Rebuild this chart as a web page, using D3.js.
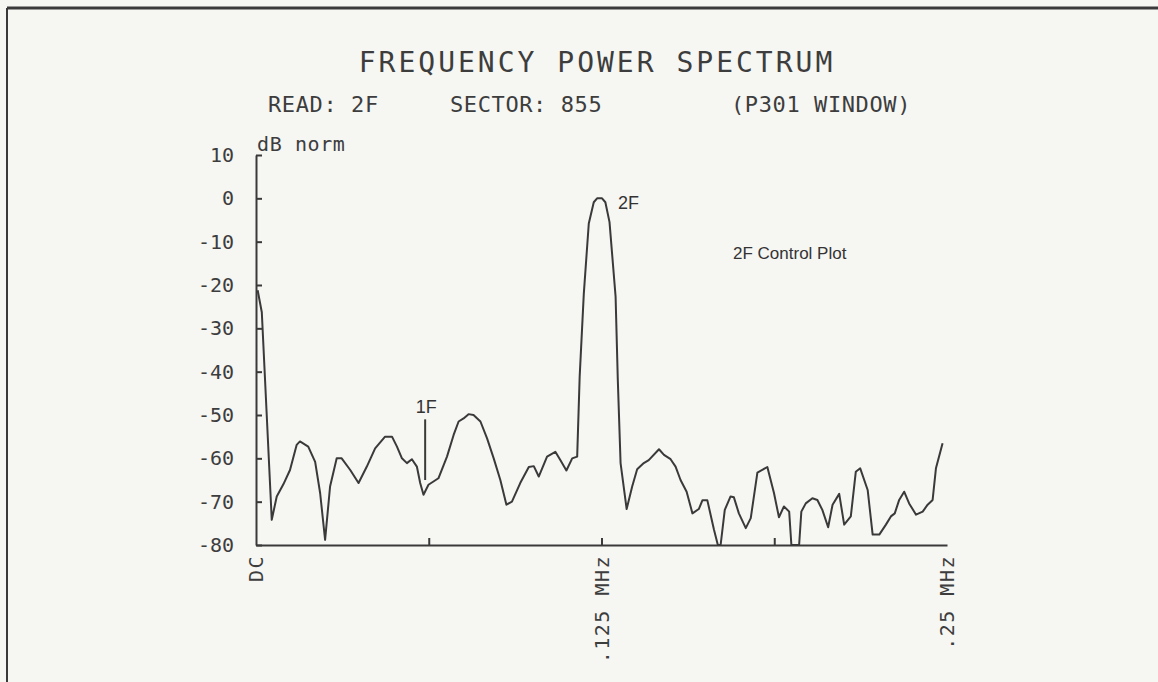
<!DOCTYPE html>
<html>
<head>
<meta charset="utf-8">
<script src="https://cdn.jsdelivr.net/npm/d3@7"></script>
<style>
  body { margin: 0; background: #f6f6f3; }
  svg { display: block; }
  .plot { font-family: "DejaVu Sans Mono", monospace; fill: #3d3d3d; font-feature-settings: "zero"; }
  .note { font-family: "Liberation Sans", Arial, sans-serif; fill: #333; }
</style>
</head>
<body>
<svg id="chart" width="1158" height="682"></svg>
<script>
// spectrum trace (frequency in kHz, level in dB norm)
var freqKHz = [0.6, 2.1, 5.7, 7.5, 9.9, 12.3, 14.7, 15.9, 18.9, 21.4, 23.2, 25.0, 26.8, 29.2, 31.0,
  34.1, 37.1, 40.1, 43.1, 46.7, 49.2, 51.0, 52.8, 54.6, 56.4, 58.2, 59.4, 60.6, 62.4, 66.0,
  69.1, 71.5, 73.3, 75.1, 76.9, 78.7, 81.2, 83.6, 86.0, 88.4, 90.6, 92.6, 95.6, 98.7, 100.5,
  102.3, 105.3, 108.3, 110.1, 112.3, 114.4, 116.2, 117.1, 118.6, 120.4, 122.2, 123.4, 125.2, 126.4, 127.9,
  130.1, 130.9, 131.9, 134.1, 136.1, 137.9, 140.3, 142.1, 145.8, 147.6, 150.0, 151.8, 153.6, 155.8, 157.9,
  160.2, 161.5, 163.3, 165.7, 167.1, 168.1, 169.6, 171.7, 172.9, 174.7, 177.2, 179.0, 181.4, 185.0, 187.4,
  189.2, 191.0, 192.9, 193.7, 196.5, 197.3, 198.9, 201.3, 203.1, 204.9, 207.0, 208.6, 211.0, 212.8, 215.2,
  217.0, 218.6, 221.3, 223.1, 225.5, 227.9, 229.7, 231.1, 232.7, 234.5, 236.3, 238.8, 241.2, 243.0, 244.8,
  246.0, 248.4];
var powerDb = [-21.2, -26.3, -74.2, -68.8, -66.0, -62.7, -56.9, -56.1, -57.3, -60.8, -68.0, -78.8, -66.5, -60.0, -60.0,
  -62.7, -65.7, -61.9, -57.7, -55.0, -55.0, -57.3, -60.0, -61.1, -60.2, -61.9, -65.7, -68.4, -66.1, -64.6,
  -59.6, -54.6, -51.5, -50.8, -49.8, -50.0, -51.5, -55.4, -60.0, -65.0, -70.7, -70.0, -65.7, -62.0, -61.8,
  -64.2, -59.6, -58.5, -60.4, -62.8, -60.0, -59.6, -41.2, -22.0, -5.8, -0.9, 0, 0, -0.9, -5.5,
  -22.7, -41.9, -61.1, -71.7, -66.5, -62.5, -61.1, -60.4, -57.9, -59.2, -60.2, -61.9, -65.0, -67.7, -72.7,
  -71.7, -69.7, -69.7, -76.5, -80, -80, -71.9, -68.8, -69.0, -72.7, -76.1, -73.8, -63.3, -62.0, -68.0,
  -73.6, -71.1, -72.3, -80, -80, -72.3, -70.4, -69.2, -69.6, -71.9, -75.9, -70.7, -68.2, -75.3, -73.4,
  -63.1, -62.3, -67.3, -77.6, -77.6, -75.3, -73.4, -72.7, -69.6, -67.7, -70.4, -73.0, -72.3, -70.7, -69.6,
  -62.3, -56.5];

var yTicks = [10, 0, -10, -20, -30, -40, -50, -60, -70, -80];
var xTicks = [62.5, 125, 187.5];
var xLabelFreqs = [0, 125, 250];
var xLabels = ["DC", ".125 MHz", ".25 MHz"];
var subtitleParts = ["READ: 2F", "SECTOR: 855", "(P301 WINDOW)"];
var subtitleX = [268, 450, 731];

var svg = d3.select("#chart");

// paper frame (top edge and left edge only)
svg.append("line").attr("x1", 7).attr("y1", 8).attr("x2", 1158).attr("y2", 8)
  .attr("stroke", "#3a3a3a").attr("stroke-width", 3);
svg.append("line").attr("x1", 7).attr("y1", 8).attr("x2", 7).attr("y2", 682)
  .attr("stroke", "#3a3a3a").attr("stroke-width", 2);

var x = d3.scaleLinear().domain([0, 250]).range([256, 947]);
var y = d3.scaleLinear().domain([-80, 10]).range([545, 155]);

svg.append("text").attr("class", "plot")
  .attr("x", 597).attr("y", 72)
  .attr("text-anchor", "middle")
  .style("font-size", "28px").style("letter-spacing", "3px")
  .text("FREQUENCY POWER SPECTRUM");

svg.selectAll(".sub")
  .data(subtitleParts)
  .enter()
  .append("text")
  .attr("class", "plot")
  .attr("x", function(d, i) { return subtitleX[i]; })
  .attr("y", 112)
  .style("font-size", "22px").style("letter-spacing", "0.6px")
  .text(function(d) { return d; });

// y axis, ticks pointing into the plot
var yAxis = svg.append("g")
  .attr("transform", "translate(" + x(0) + ",0)")
  .call(d3.axisLeft(y).tickValues(yTicks).tickSizeInner(-6).tickSizeOuter(0).tickPadding(22)
    .tickFormat(function(d) { return String(d); }));
yAxis.select(".domain").attr("stroke", "#3a3a3a").attr("stroke-width", 2);
yAxis.selectAll(".tick line").attr("stroke", "#3a3a3a").attr("stroke-width", 2);
yAxis.selectAll(".tick text").attr("class", "plot")
  .style("font-size", "20px").attr("fill", "#3d3d3d");

svg.append("text").attr("class", "plot")
  .attr("x", 257).attr("y", 151)
  .style("font-size", "20px").style("letter-spacing", "0.6px")
  .text("dB norm");

// x axis, ticks pointing up
var xAxis = svg.append("g")
  .attr("transform", "translate(0," + y(-80) + ")")
  .call(d3.axisBottom(x).tickValues(xTicks).tickSizeInner(-7).tickSizeOuter(0).tickFormat(""));
xAxis.select(".domain").attr("stroke", "#3a3a3a").attr("stroke-width", 2);
xAxis.selectAll(".tick line").attr("stroke", "#3a3a3a").attr("stroke-width", 2);

svg.selectAll(".xlab")
  .data(xLabelFreqs)
  .enter()
  .append("text")
  .attr("class", "plot")
  .attr("text-anchor", "end")
  .attr("transform", function(d) { return "translate(" + (x(d) + 7) + "," + 555 + ") rotate(-90)"; })
  .style("font-size", "20px").style("letter-spacing", "1.5px")
  .text(function(d, i) { return xLabels[i]; });

// trace
var line = d3.line()
  .x(function(d) { return x(d[0]); })
  .y(function(d) { return y(d[1]); });

svg.append("path")
  .datum(d3.zip(freqKHz, powerDb))
  .attr("d", line)
  .attr("fill", "none")
  .attr("stroke", "#3a3a3a")
  .attr("stroke-width", 2)
  .attr("stroke-linejoin", "round");

// 1F marker
var oneF = 61.2;
svg.append("line")
  .attr("x1", x(oneF)).attr("x2", x(oneF))
  .attr("y1", y(-51)).attr("y2", y(-65))
  .attr("stroke", "#3a3a3a").attr("stroke-width", 2);
svg.append("text").attr("class", "note")
  .attr("x", x(oneF) + 1).attr("y", y(-49.5))
  .attr("text-anchor", "middle")
  .style("font-size", "18px")
  .text("1F");

svg.append("text").attr("class", "note")
  .attr("x", 618).attr("y", 209)
  .style("font-size", "18px")
  .text("2F");

svg.append("text").attr("class", "note")
  .attr("x", 733).attr("y", 259)
  .style("font-size", "17px")
  .text("2F Control Plot");
</script>
</body>
</html>
